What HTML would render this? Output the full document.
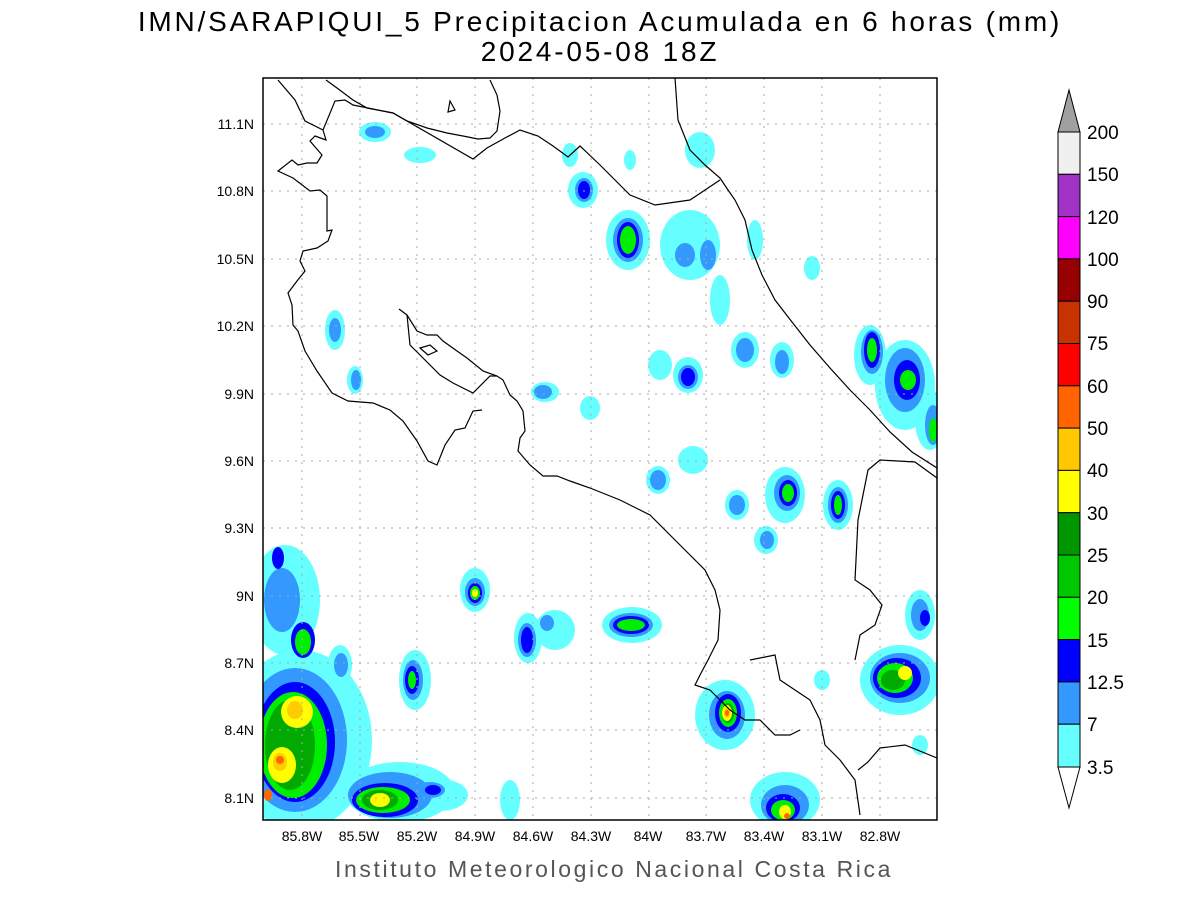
<!DOCTYPE html>
<html><head><meta charset="utf-8"><style>
body{margin:0;background:#fff;width:1200px;height:900px;overflow:hidden}
svg text{font-family:"Liberation Sans",sans-serif}
</style></head><body>
<svg width="1200" height="900" xmlns="http://www.w3.org/2000/svg">
<text x="600" y="31" font-size="28" text-anchor="middle" letter-spacing="2.8" font-weight="300">IMN/SARAPIQUI_5 Precipitacion Acumulada en 6 horas (mm)</text>
<text x="600" y="61" font-size="28" text-anchor="middle" letter-spacing="2.8">2024-05-08 18Z</text>
<text x="614" y="877" font-size="23" text-anchor="middle" fill="#555" letter-spacing="2.6">Instituto Meteorologico Nacional Costa Rica</text>
<defs><clipPath id="c"><rect x="263" y="78" width="674" height="742"/></clipPath></defs>
<g clip-path="url(#c)">
<g fill="#66ffff">
<ellipse cx="300" cy="740" rx="72" ry="90"/><ellipse cx="400" cy="792" rx="55" ry="30"/><ellipse cx="285" cy="600" rx="35" ry="55"/>
<ellipse cx="415" cy="680" rx="16" ry="30"/><ellipse cx="340" cy="665" rx="12" ry="20"/><ellipse cx="440" cy="795" rx="28" ry="16"/>
<ellipse cx="475" cy="590" rx="15" ry="22"/><ellipse cx="528" cy="638" rx="14" ry="25"/><ellipse cx="555" cy="630" rx="20" ry="20"/>
<ellipse cx="632" cy="625" rx="30" ry="18"/><ellipse cx="725" cy="715" rx="30" ry="35"/><ellipse cx="785" cy="800" rx="35" ry="28"/>
<ellipse cx="900" cy="680" rx="40" ry="35"/><ellipse cx="920" cy="615" rx="15" ry="25"/><ellipse cx="905" cy="385" rx="30" ry="45"/>
<ellipse cx="870" cy="355" rx="16" ry="30"/><ellipse cx="930" cy="420" rx="15" ry="30"/><ellipse cx="838" cy="505" rx="15" ry="25"/>
<ellipse cx="785" cy="495" rx="20" ry="28"/><ellipse cx="737" cy="505" rx="12" ry="15"/><ellipse cx="766" cy="540" rx="12" ry="14"/>
<ellipse cx="658" cy="480" rx="12" ry="14"/><ellipse cx="693" cy="460" rx="15" ry="14"/><ellipse cx="688" cy="375" rx="15" ry="18"/>
<ellipse cx="660" cy="365" rx="12" ry="15"/><ellipse cx="745" cy="350" rx="14" ry="18"/><ellipse cx="782" cy="360" rx="12" ry="18"/>
<ellipse cx="628" cy="240" rx="22" ry="30"/><ellipse cx="690" cy="245" rx="30" ry="35"/><ellipse cx="583" cy="190" rx="15" ry="18"/>
<ellipse cx="545" cy="392" rx="14" ry="10"/><ellipse cx="590" cy="408" rx="10" ry="12"/><ellipse cx="335" cy="330" rx="10" ry="20"/>
<ellipse cx="355" cy="380" rx="8" ry="14"/><ellipse cx="375" cy="132" rx="16" ry="10"/><ellipse cx="420" cy="155" rx="16" ry="8"/>
<ellipse cx="700" cy="150" rx="15" ry="18"/><ellipse cx="755" cy="240" rx="8" ry="20"/><ellipse cx="812" cy="268" rx="8" ry="12"/>
<ellipse cx="720" cy="300" rx="10" ry="25"/><ellipse cx="570" cy="155" rx="8" ry="12"/><ellipse cx="630" cy="160" rx="6" ry="10"/>
<ellipse cx="920" cy="745" rx="8" ry="10"/><ellipse cx="822" cy="680" rx="8" ry="10"/><ellipse cx="510" cy="800" rx="10" ry="20"/>
</g>
<g fill="#3399ff">
<ellipse cx="295" cy="740" rx="52" ry="72"/><ellipse cx="390" cy="795" rx="42" ry="23"/><ellipse cx="282" cy="600" rx="18" ry="32"/>
<ellipse cx="413" cy="680" rx="10" ry="20"/><ellipse cx="341" cy="665" rx="7" ry="12"/><ellipse cx="430" cy="790" rx="15" ry="8"/>
<ellipse cx="475" cy="592" rx="10" ry="14"/><ellipse cx="527" cy="640" rx="9" ry="17"/><ellipse cx="631" cy="625" rx="22" ry="12"/>
<ellipse cx="727" cy="715" rx="18" ry="24"/><ellipse cx="785" cy="805" rx="24" ry="20"/><ellipse cx="900" cy="678" rx="30" ry="25"/>
<ellipse cx="905" cy="380" rx="20" ry="32"/><ellipse cx="872" cy="352" rx="11" ry="22"/><ellipse cx="933" cy="425" rx="8" ry="20"/>
<ellipse cx="838" cy="505" rx="10" ry="18"/><ellipse cx="787" cy="493" rx="13" ry="18"/><ellipse cx="737" cy="505" rx="8" ry="10"/>
<ellipse cx="767" cy="540" rx="7" ry="9"/><ellipse cx="658" cy="480" rx="8" ry="10"/><ellipse cx="688" cy="377" rx="10" ry="12"/>
<ellipse cx="745" cy="350" rx="9" ry="12"/><ellipse cx="782" cy="362" rx="7" ry="12"/><ellipse cx="628" cy="240" rx="15" ry="22"/>
<ellipse cx="685" cy="255" rx="10" ry="12"/><ellipse cx="708" cy="255" rx="8" ry="15"/><ellipse cx="584" cy="190" rx="9" ry="12"/>
<ellipse cx="543" cy="392" rx="9" ry="7"/><ellipse cx="335" cy="330" rx="6" ry="12"/><ellipse cx="356" cy="380" rx="5" ry="10"/>
<ellipse cx="375" cy="132" rx="10" ry="6"/><ellipse cx="920" cy="615" rx="9" ry="16"/><ellipse cx="547" cy="623" rx="7" ry="8"/>
</g>
<g fill="#0000ff">
<ellipse cx="295" cy="742" rx="40" ry="60"/><ellipse cx="385" cy="800" rx="33" ry="17"/><ellipse cx="278" cy="558" rx="6" ry="11"/>
<ellipse cx="303" cy="640" rx="12" ry="18"/><ellipse cx="412" cy="680" rx="7" ry="14"/><ellipse cx="475" cy="593" rx="7" ry="10"/>
<ellipse cx="527" cy="640" rx="6" ry="13"/><ellipse cx="631" cy="625" rx="18" ry="9"/><ellipse cx="728" cy="713" rx="13" ry="19"/>
<ellipse cx="783" cy="808" rx="17" ry="14"/><ellipse cx="897" cy="678" rx="24" ry="20"/><ellipse cx="907" cy="380" rx="13" ry="20"/>
<ellipse cx="872" cy="350" rx="8" ry="18"/><ellipse cx="838" cy="505" rx="7" ry="14"/><ellipse cx="788" cy="493" rx="9" ry="13"/>
<ellipse cx="688" cy="377" rx="7" ry="9"/><ellipse cx="628" cy="240" rx="11" ry="18"/><ellipse cx="584" cy="190" rx="6" ry="9"/>
<ellipse cx="433" cy="790" rx="8" ry="5"/><ellipse cx="925" cy="618" rx="5" ry="8"/>
</g>
<g fill="#00ee00">
<ellipse cx="293" cy="745" rx="34" ry="53"/><ellipse cx="383" cy="800" rx="27" ry="13"/><ellipse cx="303" cy="642" rx="8" ry="13"/>
<ellipse cx="412" cy="680" rx="4" ry="9"/><ellipse cx="475" cy="593" rx="5" ry="7"/><ellipse cx="631" cy="625" rx="14" ry="6"/>
<ellipse cx="728" cy="713" rx="9" ry="14"/><ellipse cx="783" cy="810" rx="12" ry="10"/><ellipse cx="895" cy="678" rx="18" ry="15"/>
<ellipse cx="908" cy="380" rx="8" ry="10"/><ellipse cx="872" cy="350" rx="5" ry="12"/><ellipse cx="838" cy="505" rx="4" ry="10"/>
<ellipse cx="788" cy="493" rx="6" ry="9"/><ellipse cx="628" cy="240" rx="8" ry="14"/><ellipse cx="933" cy="430" rx="4" ry="12"/>
</g>
<g fill="#00aa00"><ellipse cx="290" cy="745" rx="25" ry="45"/><ellipse cx="380" cy="800" rx="18" ry="10"/><ellipse cx="728" cy="713" rx="6" ry="10"/><ellipse cx="893" cy="680" rx="12" ry="10"/></g>
<g fill="#ffff00"><ellipse cx="297" cy="712" rx="16" ry="16"/><ellipse cx="282" cy="765" rx="14" ry="18"/><ellipse cx="380" cy="800" rx="10" ry="7"/><ellipse cx="727" cy="713" rx="5" ry="8"/><ellipse cx="905" cy="673" rx="7" ry="7"/><ellipse cx="785" cy="812" rx="6" ry="7"/><ellipse cx="475" cy="593" rx="3" ry="4"/></g>
<g fill="#ffcc00"><ellipse cx="295" cy="710" rx="8" ry="9"/><ellipse cx="280" cy="762" rx="7" ry="9"/><ellipse cx="727" cy="713" rx="3" ry="5"/></g>
<g fill="#ff6600"><ellipse cx="280" cy="760" rx="4" ry="4"/><ellipse cx="727" cy="713" rx="2" ry="3"/><ellipse cx="787" cy="816" rx="3" ry="3"/><ellipse cx="268" cy="795" rx="4" ry="6"/></g>
</g>
<g stroke="#aaa" stroke-width="1" stroke-dasharray="2,6">
<line x1="302" y1="78" x2="302" y2="820"/><line x1="360" y1="78" x2="360" y2="820"/><line x1="417" y1="78" x2="417" y2="820"/>
<line x1="475" y1="78" x2="475" y2="820"/><line x1="533" y1="78" x2="533" y2="820"/><line x1="591" y1="78" x2="591" y2="820"/>
<line x1="649" y1="78" x2="649" y2="820"/><line x1="706" y1="78" x2="706" y2="820"/><line x1="764" y1="78" x2="764" y2="820"/>
<line x1="822" y1="78" x2="822" y2="820"/><line x1="880" y1="78" x2="880" y2="820"/>
<line x1="263" y1="124" x2="937" y2="124"/><line x1="263" y1="191" x2="937" y2="191"/><line x1="263" y1="259" x2="937" y2="259"/>
<line x1="263" y1="326" x2="937" y2="326"/><line x1="263" y1="394" x2="937" y2="394"/><line x1="263" y1="461" x2="937" y2="461"/>
<line x1="263" y1="528" x2="937" y2="528"/><line x1="263" y1="596" x2="937" y2="596"/><line x1="263" y1="663" x2="937" y2="663"/>
<line x1="263" y1="730" x2="937" y2="730"/><line x1="263" y1="798" x2="937" y2="798"/>
</g>
<g clip-path="url(#c)" fill="none" stroke="#000" stroke-width="1.2">
<polyline points="278,80 295,100 305,121 323,130 326,140 315,136 310,141 322,155 317,163 307,163 298,165 292,160 278,171 293,178 310,191 320,190 327,196 327,231 332,230 328,241 317,248 303,251 300,261 305,271 297,281 288,293 292,305 293,325 298,331 305,351 317,371 332,393 348,401 373,403 390,410 403,421 417,441 428,461 437,465 445,445 455,430 465,428 473,411 482,410"/>
<polyline points="323,130 335,101 345,100 353,105 393,113 407,121 473,159 487,148 505,138 520,130 538,136 553,146 568,157 580,146 600,165 630,195 655,205 690,200 705,190 720,180"/>
<polyline points="326,80 337,88 353,100 367,108 393,113 407,121 427,128 447,133 463,136 478,139 490,138 497,131 500,111 497,95 490,80"/>
<polygon points="450,101 455,110 448,112"/>
<polygon points="420,348 430,345 437,351 428,355"/>
<polyline points="399,309 407,315 410,345 420,355 440,375 453,383 473,393 490,376 497,376"/>
<polyline points="407,315 417,331 427,335 437,335 443,341 457,351 467,358 483,371 497,376 503,380 510,395 517,401 523,411 525,431 520,438 518,451 530,465 543,476 557,476 570,481 590,488 620,500 650,515 680,545 705,570 715,590 720,610 718,640 708,660 700,675 695,685 710,690 730,710 745,720 760,720 775,735 790,735 800,730"/>
<polyline points="675,78 678,120 690,150 705,165 720,178 728,190 735,200 745,220 752,250 762,275 775,300 792,322 810,345 830,368 850,390 870,410 890,432 912,452 937,468"/>
<polyline points="937,478 915,462 880,460 868,470 858,520 855,580 870,590 882,605 875,625 860,635 855,660"/>
<polyline points="750,660 775,655 780,680 795,690 810,700 820,720 825,745 840,760 855,780 860,815"/>
<polyline points="937,758 905,745 880,748 868,762 858,770"/>
</g>
<rect x="263" y="78" width="674" height="742" fill="none" stroke="#000" stroke-width="1.5"/>
<g font-size="14" text-anchor="end">
<text x="254" y="129">11.1N</text><text x="254" y="196">10.8N</text><text x="254" y="264">10.5N</text><text x="254" y="331">10.2N</text>
<text x="254" y="399">9.9N</text><text x="254" y="466">9.6N</text><text x="254" y="533">9.3N</text><text x="254" y="601">9N</text>
<text x="254" y="668">8.7N</text><text x="254" y="735">8.4N</text><text x="254" y="803">8.1N</text>
</g>
<g font-size="14" text-anchor="middle">
<text x="302" y="841">85.8W</text><text x="359" y="841">85.5W</text><text x="417" y="841">85.2W</text><text x="475" y="841">84.9W</text>
<text x="533" y="841">84.6W</text><text x="591" y="841">84.3W</text><text x="648" y="841">84W</text><text x="706" y="841">83.7W</text>
<text x="764" y="841">83.4W</text><text x="822" y="841">83.1W</text><text x="880" y="841">82.8W</text>
</g>
<g stroke="#000" stroke-width="1">
<polygon points="1058,132 1080,132 1069,90" fill="#a0a0a0"/>
<rect x="1058" y="132" width="22" height="42.3" fill="#f0f0f0"/>
<rect x="1058" y="174.3" width="22" height="42.3" fill="#a032c8"/>
<rect x="1058" y="216.6" width="22" height="42.3" fill="#ff00ff"/>
<rect x="1058" y="258.9" width="22" height="42.3" fill="#960000"/>
<rect x="1058" y="301.2" width="22" height="42.3" fill="#c83200"/>
<rect x="1058" y="343.5" width="22" height="42.3" fill="#ff0000"/>
<rect x="1058" y="385.8" width="22" height="42.3" fill="#ff6400"/>
<rect x="1058" y="428.1" width="22" height="42.3" fill="#ffc800"/>
<rect x="1058" y="470.4" width="22" height="42.3" fill="#ffff00"/>
<rect x="1058" y="512.7" width="22" height="42.3" fill="#009600"/>
<rect x="1058" y="555" width="22" height="42.3" fill="#00c800"/>
<rect x="1058" y="597.3" width="22" height="42.3" fill="#00ff00"/>
<rect x="1058" y="639.6" width="22" height="42.3" fill="#0000ff"/>
<rect x="1058" y="681.9" width="22" height="42.3" fill="#3399ff"/>
<rect x="1058" y="724.2" width="22" height="42.8" fill="#66ffff"/>
<polygon points="1058,767 1080,767 1069,808" fill="#fff"/>
</g>
<g font-size="19">
<text x="1087" y="139">200</text><text x="1087" y="181">150</text><text x="1087" y="224">120</text><text x="1087" y="266">100</text>
<text x="1087" y="308">90</text><text x="1087" y="350">75</text><text x="1087" y="393">60</text><text x="1087" y="435">50</text>
<text x="1087" y="477">40</text><text x="1087" y="520">30</text><text x="1087" y="562">25</text><text x="1087" y="604">20</text>
<text x="1087" y="647">15</text><text x="1087" y="689">12.5</text><text x="1087" y="731">7</text><text x="1087" y="774">3.5</text>
</g>
</svg>
</body></html>
